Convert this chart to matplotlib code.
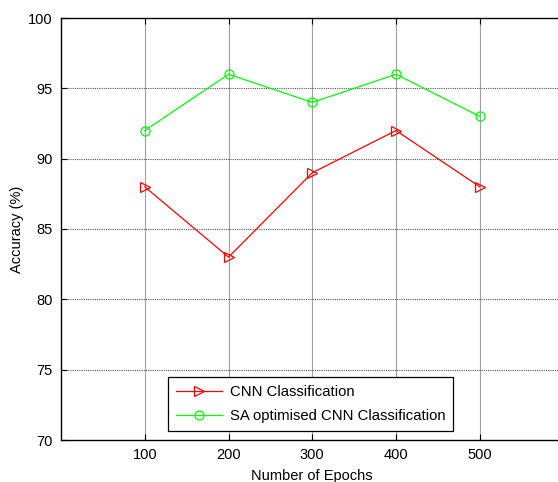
import matplotlib
matplotlib.use("Agg")
import matplotlib.pyplot as plt

# ── data ──────────────────────────────────────────────────────
epochs   = [100, 200, 300, 400, 500]
cnn_acc  = [88, 83, 89, 92, 88]
sa_acc   = [92, 96, 94, 96, 93]
x_ticks  = [100, 200, 300, 400, 500]
y_ticks  = [70, 75, 80, 85, 90, 95, 100]

plt.rcParams["font.family"] = ["Liberation Sans", "DejaVu Sans"]
plt.rcParams["font.size"] = 10.5

fig = plt.figure(figsize=(5.58, 4.82), dpi=100)
# right edge runs past the figure, as in the cropped original
ax = fig.add_axes([61 / 558, 42 / 482, 502.5 / 558, 422 / 482])

ax.plot(epochs, cnn_acc, color="#ff0000", lw=0.9, marker=">", ms=7,
        mfc="none", mec="#ff0000", mew=0.9, label="CNN Classification")
ax.plot(epochs, sa_acc, color="#00ff00", lw=0.9, marker="o", ms=6.5,
        mfc="none", mec="#00ff00", mew=0.9, label="SA optimised CNN Classification")

ax.set_xlim(0, 600)
ax.set_ylim(70, 100)
ax.set_xticks(x_ticks)
ax.set_yticks(y_ticks)

# grid: light solid verticals, dark dotted horizontals
for xv in x_ticks:
    ax.axvline(xv, color="#a0a0a0", lw=0.8, zorder=0)
for yv in y_ticks[1:-1]:
    ax.axhline(yv, color="#555555", lw=0.8, ls=(0, (1, 1)), zorder=0)

ax.tick_params(direction="in", length=4, width=0.8, top=True, right=True, pad=6)
for sp in ax.spines.values():
    sp.set_linewidth(1.0)

ax.set_xlabel("Number of Epochs", labelpad=5)
ax.set_ylabel("Accuracy (%)", labelpad=3)

leg = ax.legend(loc="lower left", bbox_to_anchor=(107 / 502.5, 9 / 422),
                borderaxespad=0, fancybox=False, framealpha=1, edgecolor="black",
                handlelength=3.1, handletextpad=0.5, borderpad=0.55,
                labelspacing=0.65, fontsize=10.7)
leg.get_frame().set_linewidth(0.9)

fig.savefig("out.png", dpi=100)
